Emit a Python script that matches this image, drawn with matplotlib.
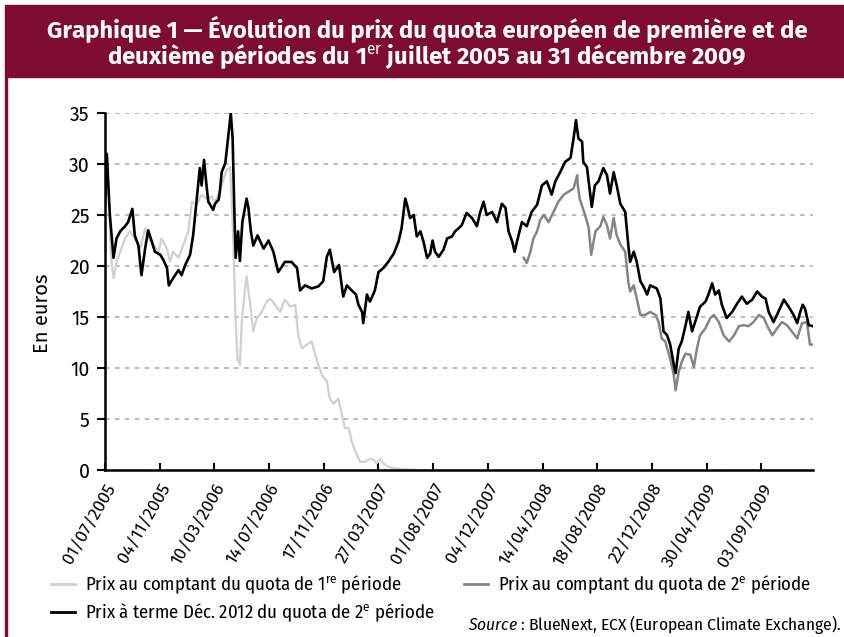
import matplotlib
matplotlib.use("Agg")
import matplotlib.pyplot as plt
from matplotlib.lines import Line2D
from matplotlib.patches import Rectangle

FONT = "Fira Sans Condensed"
WIDE = "Fira Sans"
plt.rcParams.update({
    "font.family": [FONT, "DejaVu Sans"],
    "mathtext.fontset": "custom",
    "mathtext.rm": FONT,
    "mathtext.it": FONT + ":italic",
    "mathtext.bf": FONT + ":bold",
})

MAROON = "#7e0c2e"

# x = trading-day index from 01/07/2005 (ticks every 90 trading days)
tick_labels = ["01/07/2005", "04/11/2005", "10/03/2006", "14/07/2006",
               "17/11/2006", "27/03/2007", "01/08/2007", "04/12/2007",
               "14/04/2008", "18/08/2008", "22/12/2008", "30/04/2009",
               "03/09/2009"]
tick_step = 90
last_day = 1165

# Spot price, 1st period allowance (EUR)
spot1_days = [0, 3, 6, 10, 14, 19, 25, 33, 41, 49, 58, 66, 71, 80, 88, 93, 102,
              107, 112, 121, 129, 137, 143, 151, 159, 167, 176, 181, 187, 192,
              200, 206, 211, 215, 218, 222, 225, 230, 233, 239, 244, 250, 258,
              266, 272, 280, 288, 296, 305, 313, 318, 324, 332, 340, 346, 351,
              357, 365, 370, 376, 384, 390, 395, 401, 406, 412, 420, 428, 436,
              442, 447, 453, 458, 466, 477, 494, 508]
spot1_vals = [26.3, 27.8, 27.0, 20.8, 18.8, 20.4, 21.4, 22.7, 23.4, 22.7, 21.7,
              23.7, 22.7, 22.1, 21.4, 22.7, 21.7, 20.4, 21.4, 20.8, 22.1, 23.4,
              26.3, 26.0, 27.0, 26.6, 26.8, 26.3, 27.0, 27.9, 29.4, 29.7, 22.7,
              14.5, 10.9, 10.3, 14.5, 17.5, 19.0, 16.2, 13.6, 14.9, 15.5, 16.5,
              16.8, 16.2, 15.5, 16.7, 16.0, 16.2, 13.2, 11.9, 12.3, 12.6, 11.3,
              10.3, 9.3, 8.7, 7.0, 6.5, 7.0, 5.4, 4.1, 4.1, 2.8, 1.8, 0.8, 0.8,
              1.1, 1.0, 0.65, 1.1, 0.65, 0.3, 0.15, 0.06, 0.05]

# Spot price, 2nd period allowance (EUR)
spot2_days = [689, 694, 700, 705, 711, 716, 722, 730, 738, 746, 755, 763, 771,
              777, 778, 781, 790, 796, 800, 807, 815, 820, 826, 831, 837, 842,
              848, 856, 861, 864, 870, 875, 881, 889, 897, 906, 911, 916, 922,
              930, 936, 939, 944, 949, 955, 963, 969, 974, 979, 988, 996, 1002,
              1010, 1018, 1027, 1035, 1043, 1051, 1059, 1067, 1076, 1084, 1090,
              1098, 1106, 1114, 1122, 1130, 1139, 1147, 1155, 1160, 1165]
spot2_vals = [20.8, 20.3, 21.4, 22.7, 23.4, 24.5, 25.0, 24.3, 25.3, 26.3, 27.0,
              27.3, 27.6, 28.9, 27.9, 26.6, 25.0, 23.7, 21.1, 23.4, 23.9, 24.8,
              24.0, 22.7, 24.7, 23.0, 22.1, 21.4, 18.5, 17.5, 18.1, 16.8, 15.2,
              15.2, 15.5, 15.2, 14.5, 12.9, 12.6, 10.9, 9.3, 7.8, 9.6, 10.6,
              11.4, 11.3, 10.1, 11.9, 13.2, 13.9, 14.9, 15.2, 14.5, 13.2, 12.6,
              13.2, 14.1, 14.2, 14.1, 14.5, 15.2, 14.9, 14.1, 13.2, 13.9, 14.5,
              14.2, 13.6, 12.9, 14.4, 14.5, 12.3, 12.3]

# Futures price Dec. 2012, 2nd period allowance (EUR)
fut_days = [0, 3, 8, 14, 19, 25, 33, 38, 45, 49, 55, 60, 66, 71, 77, 82, 91,
            96, 102, 105, 112, 121, 126, 132, 140, 145, 151, 156, 159, 163, 167,
            170, 178, 181, 187, 189, 192, 198, 203, 207, 210, 213, 215, 219,
            222, 226, 233, 236, 240, 244, 251, 261, 269, 277, 285, 296, 307,
            316, 321, 329, 340, 351, 359, 365, 370, 377, 385, 392, 398, 406,
            413, 417, 423, 425, 431, 436, 444, 450, 458, 466, 475, 483, 488,
            494, 497, 502, 508, 513, 519, 524, 530, 535, 539, 543, 549, 557,
            563, 571, 576, 582, 587, 595, 604, 612, 617, 623, 628, 637, 645,
            653, 659, 664, 670, 674, 680, 686, 694, 702, 711, 719, 727, 735,
            741, 749, 757, 766, 771, 775, 779, 785, 787, 793, 798, 801, 806,
            812, 820, 826, 831, 837, 842, 848, 856, 861, 864, 870, 875, 881,
            886, 892, 897, 908, 914, 919, 925, 930, 936, 939, 944, 949, 955,
            960, 966, 971, 979, 988, 993, 999, 1004, 1010, 1015, 1023, 1032,
            1040, 1048, 1056, 1065, 1073, 1081, 1087, 1092, 1100, 1108, 1117,
            1125, 1133, 1139, 1144, 1148, 1152, 1158, 1165]
fut_vals = [26.0, 31.0, 25.0, 20.8, 22.7, 23.4, 23.9, 24.3, 25.6, 23.0, 22.0,
            19.1, 21.7, 23.5, 22.4, 21.4, 21.1, 20.6, 19.8, 18.1, 18.8, 19.6,
            19.1, 20.1, 21.1, 23.0, 26.6, 29.6, 27.9, 30.4, 27.9, 26.3, 25.5,
            26.1, 26.5, 27.3, 29.2, 30.1, 32.8, 35.0, 32.5, 25.0, 20.8, 23.4,
            20.5, 24.3, 26.6, 25.7, 23.4, 22.0, 23.0, 21.7, 22.5, 21.4, 19.4,
            20.4, 20.4, 19.8, 17.6, 18.1, 17.8, 18.0, 18.5, 20.9, 21.6, 19.4,
            20.1, 17.0, 18.1, 17.6, 17.2, 16.2, 15.5, 14.4, 17.2, 16.5, 17.6,
            19.4, 19.8, 20.4, 21.2, 22.4, 23.7, 26.6, 26.0, 24.7, 25.0, 22.9,
            23.4, 22.4, 20.8, 21.2, 22.5, 21.4, 20.9, 21.6, 22.7, 22.9, 23.4,
            23.7, 24.0, 25.2, 24.7, 23.9, 25.2, 26.3, 25.0, 25.3, 24.3, 26.1,
            25.7, 23.4, 22.4, 21.4, 22.9, 24.3, 23.9, 25.3, 26.0, 27.9, 28.3,
            27.0, 28.3, 29.2, 30.2, 30.6, 32.5, 34.3, 32.5, 32.2, 30.2, 29.7,
            27.3, 25.8, 27.9, 28.3, 29.6, 28.9, 27.1, 29.2, 27.9, 26.1, 25.3,
            22.1, 20.4, 21.4, 20.4, 18.5, 18.0, 17.2, 18.1, 17.8, 16.8, 13.6,
            13.2, 12.3, 10.3, 9.5, 11.9, 12.6, 14.1, 15.5, 13.6, 14.5, 16.0,
            16.5, 17.2, 18.3, 17.2, 17.6, 16.2, 14.9, 15.5, 16.3, 17.0, 16.3,
            16.7, 17.5, 17.0, 16.8, 15.5, 14.5, 15.5, 16.7, 16.0, 15.2, 14.4,
            15.5, 16.2, 15.8, 14.2, 14.1]

labels = [r"Prix au comptant du quota de 1$^{\mathrm{re}}$ période",
          r"Prix au comptant du quota de 2$^{\mathrm{e}}$ période",
          r"Prix à terme Déc. 2012 du quota de 2$^{\mathrm{e}}$ période"]
colors = ["#d0d0d0", "#858585", "#000000"]

fig = plt.figure(figsize=(8.45, 6.37), dpi=100)

# banner + left frame line
fig.patches.append(Rectangle((5 / 845, 1 - 77 / 637), 1 - 5 / 845, 72 / 637,
                             transform=fig.transFigure, color=MAROON, zorder=0))
fig.patches.append(Rectangle((5 / 845, 0), 2.5 / 845, 1 - 77 / 637,
                             transform=fig.transFigure, color=MAROON, zorder=0))
fig.text(427 / 845, 1 - 29 / 637,
         "Graphique 1 — Évolution du prix du quota européen de première et de",
         color="white", fontsize=17.2, fontweight="bold", family=WIDE,
         ha="center", va="center")
fig.text(427 / 845, 1 - 57 / 637,
         r"deuxième périodes du 1$^{\mathrm{er}}$ juillet 2005 au 31 décembre 2009",
         color="white", fontsize=17.2, fontweight="bold", family=WIDE,
         ha="center", va="center")

ax = fig.add_axes([105 / 845, 1 - 470 / 637, 708 / 845, 357 / 637])
ax.plot(spot1_days, spot1_vals, color=colors[0], lw=1.6, zorder=3)
ax.plot(spot2_days, spot2_vals, color=colors[1], lw=1.8, zorder=4)
ax.plot(fut_days, fut_vals, color=colors[2], lw=1.9, zorder=5)

ax.set_xlim(0, last_day)
ax.set_ylim(0, 35)
ax.set_yticks(range(0, 36, 5))
ax.set_xticks([i * tick_step for i in range(len(tick_labels))])
ax.set_xticklabels(tick_labels, rotation=60, ha="right", va="top",
                   rotation_mode="anchor", fontsize=12.5, family=WIDE)
for t in ax.get_yticklabels():
    t.set_family(WIDE)
ax.tick_params(axis="y", direction="out", length=6, width=1.5, labelsize=14, pad=5)
ax.tick_params(axis="x", direction="in", length=5, width=1.5, pad=8)
ax.grid(axis="y", color="#aaaaaa", lw=1.1, linestyle=(0, (3, 3.5)), zorder=1)
for s in ["top", "right"]:
    ax.spines[s].set_visible(False)
for s in ["left", "bottom"]:
    ax.spines[s].set_linewidth(1.8)
    ax.spines[s].set_zorder(6)
ax.set_ylabel("En euros", fontsize=14.5, family=WIDE)
ax.yaxis.set_label_coords(-0.075, 0.44)

# legend: one entry per slot, placed like the reference
slots = [(0, 51, 585), (2, 51, 613), (1, 464, 585)]
for k, x0, y0 in slots:
    leg = fig.legend([Line2D([], [], color=colors[k], lw=2)], [labels[k]],
                     loc="center left", bbox_to_anchor=(x0 / 845, 1 - y0 / 637),
                     frameon=False, fontsize=13.5, handlelength=1.3,
                     handletextpad=0.5, borderpad=0, borderaxespad=0)

fig.text(841 / 845, 1 - 624 / 637,
         r"$\mathit{Source}$ : BlueNext, ECX (European Climate Exchange).",
         ha="right", va="center", fontsize=12.5)

fig.savefig("out.png", dpi=100)
